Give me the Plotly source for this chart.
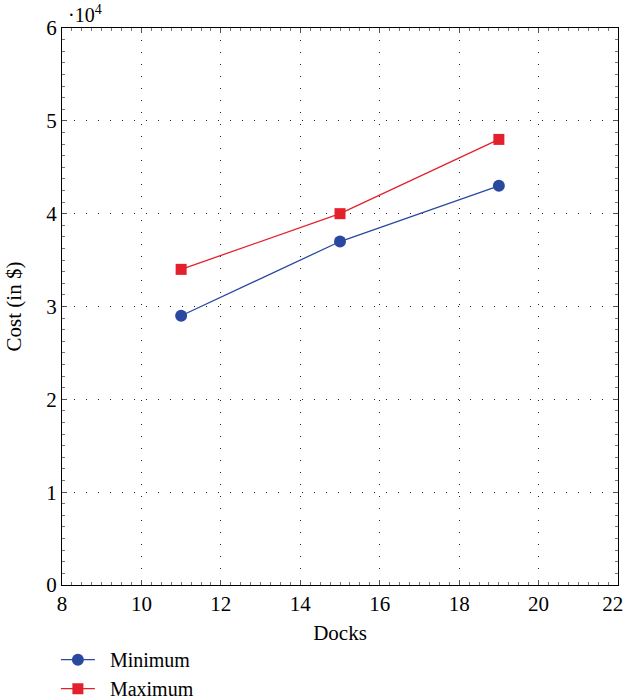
import plotly.graph_objects as go

docks = [11, 15, 19]
cost_min = [29000, 37000, 43000]
cost_max = [34000, 40000, 48000]
y_tick_vals = [0, 10000, 20000, 30000, 40000, 50000, 60000]
y_tick_text = ["0", "1", "2", "3", "4", "5", "6"]
x_tick_vals = [8, 10, 12, 14, 16, 18, 20, 22]
x_tick_text = ["8", "10", "12", "14", "16", "18", "20", "22\u2002"]

FONT = "Liberation Serif"
BLUE = "#2a48a0"
RED = "#e3202c"

fig = go.Figure()
fig.add_trace(go.Scatter(x=docks, y=cost_min, mode="lines+markers", name="\u2002Minimum",
                         line=dict(color=BLUE, width=1.3),
                         marker=dict(symbol="circle", size=12, color=BLUE)))
fig.add_trace(go.Scatter(x=docks, y=cost_max, mode="lines+markers", name="\u2002Maximum",
                         line=dict(color=RED, width=1.3),
                         marker=dict(symbol="square", size=11, color=RED)))

axis_common = dict(showline=True, linecolor="black", linewidth=1.2, mirror="allticks",
                   ticks="inside", ticklen=5, tickcolor="#555",
                   showgrid=True, gridcolor="#222", griddash="1px,11px", gridwidth=1.2,
                   zeroline=False, automargin=False, ticklabeloverflow="allow",
                   tickfont=dict(family=FONT, size=21, color="black"))

fig.update_xaxes(range=[8, 22], tickvals=x_tick_vals, ticktext=x_tick_text,
                 title=dict(text="Docks", font=dict(family=FONT, size=21, color="black"), standoff=10),
                 minor=dict(dtick=0.25, ticks="inside", ticklen=2.5, tickcolor="#777", showgrid=False),
                 **axis_common)
fig.update_yaxes(range=[0, 60000], tickvals=y_tick_vals, ticktext=y_tick_text,
                 title=dict(text="Cost (in $)", font=dict(family=FONT, size=21, color="black"), standoff=18),
                 minor=dict(dtick=1250, ticks="inside", ticklen=2.5, tickcolor="#777", showgrid=False),
                 **axis_common)

fig.add_annotation(text="·10<sup>4</sup>", xref="paper", yref="paper", x=0.008, y=1.0,
                   xanchor="left", yanchor="bottom", showarrow=False,
                   font=dict(family=FONT, size=20, color="black"))

fig.update_layout(
    width=625, height=699,
    margin=dict(l=62, r=7, t=28, b=114, autoexpand=False),
    paper_bgcolor="white", plot_bgcolor="white",
    font=dict(family=FONT, size=21, color="black"),
    showlegend=True,
    legend=dict(x=-0.011, y=-0.099, xanchor="left", yanchor="top",
                font=dict(family=FONT, size=20, color="black"),
                bgcolor="rgba(0,0,0,0)", tracegroupgap=0, itemwidth=34),
)

fig.write_html("out.html", config={"displayModeBar": False},
               post_script="document.body.style.margin='0';document.body.style.overflow='hidden';")
